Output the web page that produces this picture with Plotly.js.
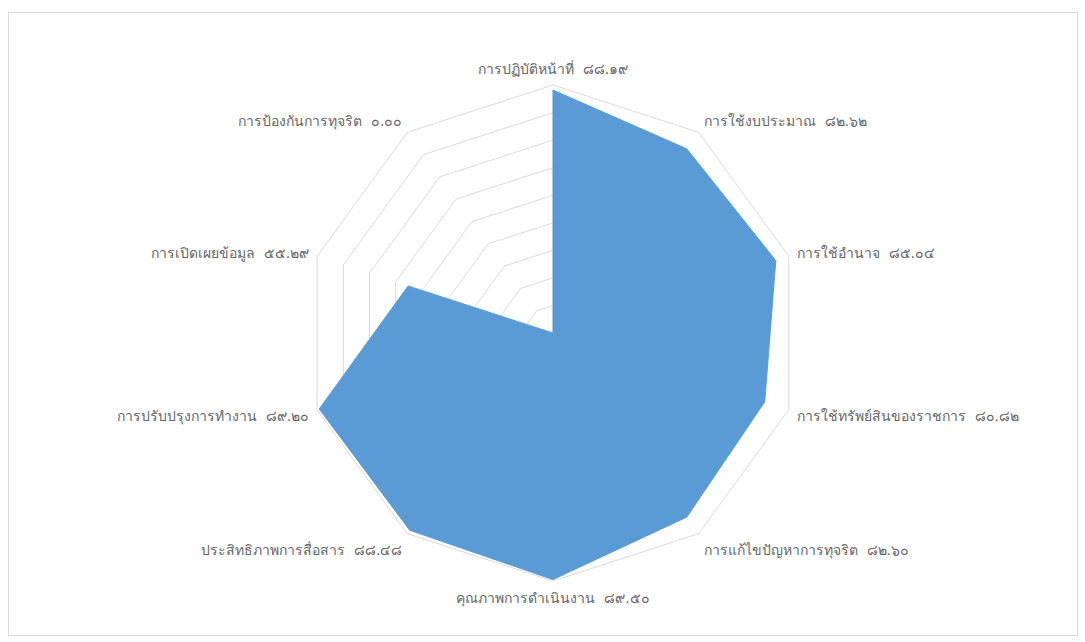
<!DOCTYPE html>
<html>
<head>
<meta charset="utf-8">
<script src="https://cdn.plot.ly/plotly-3.0.1.min.js"></script>
<style>
html,body{margin:0;padding:0;background:#fff;}
#frame{position:absolute;left:8px;top:12px;width:1070px;height:624px;border:1px solid #d9d9d9;box-sizing:border-box;}
#chart{position:absolute;left:0;top:0;width:1085px;height:642px;}
</style>
</head>
<body>
<div id="frame"></div>
<div id="chart"></div>
<script>
var categories = [
  "การปฏิบัติหน้าที่",
  "การใช้งบประมาณ",
  "การใช้อำนาจ",
  "การใช้ทรัพย์สินของราชการ",
  "การแก้ไขปัญหาการทุจริต",
  "คุณภาพการดำเนินงาน",
  "ประสิทธิภาพการสื่อสาร",
  "การปรับปรุงการทำงาน",
  "การเปิดเผยข้อมูล",
  "การป้องกันการทุจริต"
];
var scores = [88.19, 82.62, 85.04, 80.82, 82.60, 89.50, 88.48, 89.20, 55.29, 0.00];
var radialTicks = [0, 10, 20, 30, 40, 50, 60, 70, 80, 90];

function thaiDigits(s){
  var d = "๐๑๒๓๔๕๖๗๘๙";
  return s.replace(/[0-9]/g, function(c){ return d[+c]; });
}
var tickLabels = categories.map(function(c, i){ return c + "  " + thaiDigits(scores[i].toFixed(2)); });

var r = scores.concat([scores[0]]);
var theta = tickLabels.concat([tickLabels[0]]);

var trace = {
  type: "scatterpolar",
  r: r,
  theta: theta,
  mode: "lines",
  fill: "toself",
  fillcolor: "#5B9BD5",
  line: {color: "#5B9BD5", width: 1},
  hoverinfo: "skip"
};

var layout = {
  width: 1085, height: 642,
  margin: {l: 0, r: 0, t: 0, b: 0},
  paper_bgcolor: "rgba(0,0,0,0)",
  plot_bgcolor: "rgba(0,0,0,0)",
  showlegend: false,
  font: {family: "Tahoma, 'DejaVu Sans', 'Noto Sans', sans-serif", size: 14, color: "#666666"},
  polar: {
    domain: {x: [0.2811, 0.7382], y: [0.0950, 0.8676]},
    bgcolor: "rgba(0,0,0,0)",
    gridshape: "linear",
    radialaxis: {
      range: [0, 90],
      tickvals: radialTicks,
      showticklabels: false,
      ticks: "",
      showline: false,
      gridcolor: "#d9d9d9",
      gridwidth: 1
    },
    angularaxis: {
      type: "category",
      categoryarray: tickLabels,
      rotation: 90,
      direction: "clockwise",
      showgrid: false,
      showline: true,
      linecolor: "#d9d9d9",
      linewidth: 1,
      ticks: "outside",
      ticklen: 5,
      tickcolor: "rgba(0,0,0,0)",
      tickfont: {size: 14, color: "#666666"}
    }
  }
};

Plotly.newPlot("chart", [trace], layout, {displayModeBar: false, staticPlot: true});
</script>
</body>
</html>
